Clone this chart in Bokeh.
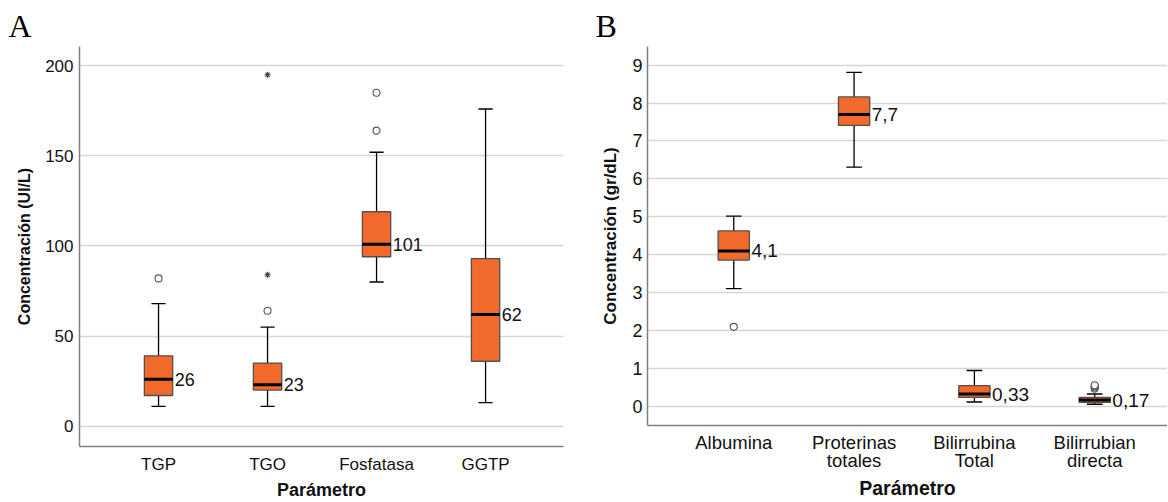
from bokeh.plotting import figure
from bokeh.layouts import row, column
from bokeh.models import FixedTicker, Range1d
from bokeh.core.properties import value
from bokeh.embed import file_html
from bokeh.resources import INLINE

# ---------------- Panel A data (UI/L) ----------------
a_cats = ["TGP", "TGO", "Fosfatasa", "GGTP"]
a_low = [11, 11, 80, 13]
a_q1 = [17, 20, 94, 36]
a_med = [26, 23, 101, 62]
a_q3 = [39, 35, 119, 93]
a_high = [68, 55, 152, 176]
a_out_cat = ["TGP", "TGO", "Fosfatasa", "Fosfatasa"]
a_out_val = [82, 64, 185, 164]
a_ext_cat = ["TGO", "TGO"]
a_ext_val = [195, 84]
a_ticks = [0, 50, 100, 150, 200]

# ---------------- Panel B data (gr/dL) ----------------
b_cats = ["Albumina", "Proterinas\ntotales", "Bilirrubina\nTotal", "Bilirrubian\ndirecta"]
b_low = [3.11, 6.31, 0.12, 0.06]
b_q1 = [3.86, 7.41, 0.24, 0.11]
b_med = [4.1, 7.7, 0.33, 0.17]
b_q3 = [4.63, 8.16, 0.55, 0.24]
b_high = [5.02, 8.81, 0.95, 0.33]
b_out_cat = ["Albumina", "Bilirrubian\ndirecta", "Bilirrubian\ndirecta",
             "Bilirrubian\ndirecta", "Bilirrubian\ndirecta"]
b_out_val = [2.1, 0.47, 0.50, 0.53, 0.56]
b_ext_cat = []
b_ext_val = []
b_ticks = [0, 1, 2, 3, 4, 5, 6, 7, 8, 9]

ORANGE = "#F26A2B"
FONT = "Liberation Sans"


def fmt(v):
    return f"{v:g}".replace(".", ",")


def panel(letter, cats, low, q1, med, q3, high, out_cat, out_val, ext_cat, ext_val,
          ticks, y_title, x_rng, y_rng, width, height, borders, fs, st, letter_x):
    bl, br, bt, bb = borders
    p = figure(width=width, height=height, output_backend="svg", toolbar_location=None,
               x_range=Range1d(*x_rng), y_range=Range1d(*y_rng),
               min_border_left=bl, min_border_right=br, min_border_top=bt,
               min_border_bottom=bb, title=letter)
    p.title.align = "left"
    p.title.offset = letter_x - bl
    p.title.text_font = "Liberation Serif"
    p.title.text_font_size = "32px"
    p.title.text_font_style = "normal"
    p.title.text_color = "black"
    p.title.standoff = 6
    p.outline_line_color = None
    p.background_fill_color = "white"

    pos = [i + 1 for i in range(len(cats))]
    BW = 0.26
    CW = 0.13
    # whiskers
    p.segment(x0=pos, y0=q3, x1=pos, y1=high, line_color="black", line_width=1.3)
    p.segment(x0=pos, y0=low, x1=pos, y1=q1, line_color="black", line_width=1.3)
    p.segment(x0=[x - CW / 2 for x in pos], y0=high, x1=[x + CW / 2 for x in pos], y1=high,
              line_color="black", line_width=1.3)
    p.segment(x0=[x - CW / 2 for x in pos], y0=low, x1=[x + CW / 2 for x in pos], y1=low,
              line_color="black", line_width=1.3)
    # boxes
    p.vbar(x=pos, width=BW, bottom=q1, top=q3, fill_color=ORANGE,
           line_color="#505050", line_width=1.3)
    # medians
    p.segment(x0=[x - BW / 2 for x in pos], y0=med, x1=[x + BW / 2 for x in pos], y1=med,
              line_color="black", line_width=3)
    # median labels
    p.text(x=[x + BW / 2 for x in pos], y=med, text=[fmt(m) for m in med],
           x_offset=2, text_align="left", text_baseline="middle",
           text_font=value(FONT), text_font_size=value(fs["med"]), text_color="#111111")
    # outliers
    idx = {c: i + 1 for i, c in enumerate(cats)}
    if out_val:
        p.scatter(x=[idx[c] for c in out_cat], y=out_val, marker="circle", size=7,
                  fill_color="white", line_color="#555555", line_width=1.1)
    if ext_val:
        p.scatter(x=[idx[c] for c in ext_cat], y=ext_val, marker="asterisk", size=6,
                  line_color="#444444", line_width=1.1)

    # axes
    p.xaxis.ticker = FixedTicker(ticks=pos)
    p.xaxis.major_label_overrides = {i: c for i, c in zip(pos, cats)}
    p.yaxis.ticker = FixedTicker(ticks=ticks)
    for ax in (p.xaxis[0], p.yaxis[0]):
        ax.axis_line_color = "#808080"
        ax.axis_line_width = 1.5
        ax.major_tick_out = 0
        ax.major_tick_in = 0
        ax.minor_tick_out = 0
        ax.minor_tick_in = 0
        ax.major_label_text_font = FONT
        ax.major_label_text_color = "#111111"
        ax.axis_label_text_font = FONT
        ax.axis_label_text_font_style = "bold"
        ax.axis_label_text_color = "#111111"
    p.xaxis.major_label_text_font_size = fs["cat"]
    p.xaxis.major_label_text_line_height = 0.9
    p.yaxis.major_label_text_font_size = fs["tick"]
    p.xaxis.axis_label = "Parámetro"
    p.yaxis.axis_label = y_title
    p.xaxis.axis_label_text_font_size = fs["xtitle"]
    p.yaxis.axis_label_text_font_size = fs["ytitle"]
    p.xaxis.major_label_standoff = st["xl"]
    p.xaxis.axis_label_standoff = st["xt"]
    p.yaxis.major_label_standoff = st["yl"]
    p.yaxis.axis_label_standoff = st["yt"]
    p.xgrid.visible = False
    p.ygrid.grid_line_color = "#d6d6d6"
    p.ygrid.grid_line_width = 1.5
    return p


pa = panel("A", a_cats, a_low, a_q1, a_med, a_q3, a_high, a_out_cat, a_out_val,
           a_ext_cat, a_ext_val, a_ticks, "Concentración (UI/L)",
           (0.275, 4.715), (-11.3, 210.7), 590, 502, (79, 27, 46, 56),
           {"med": "18px", "cat": "17px", "tick": "17px", "xtitle": "18px", "ytitle": "16px"},
           {"xl": 8, "xt": 3, "yl": 6, "yt": 9}, 8)

pb = panel("B", b_cats, b_low, b_q1, b_med, b_q3, b_high, b_out_cat, b_out_val,
           b_ext_cat, b_ext_val, b_ticks, "Concentración (gr/dL)",
           (0.283, 4.605), (-0.5, 9.49), 577, 502, (57, 0, 46, 77),
           {"med": "19px", "cat": "18.5px", "tick": "18px", "xtitle": "19.5px", "ytitle": "17px"},
           {"xl": 6, "xt": 3, "yl": 5, "yt": 9}, 5)

layout = row(column(pa), column(pb))
open("out.html", "w").write(file_html(layout, INLINE))
